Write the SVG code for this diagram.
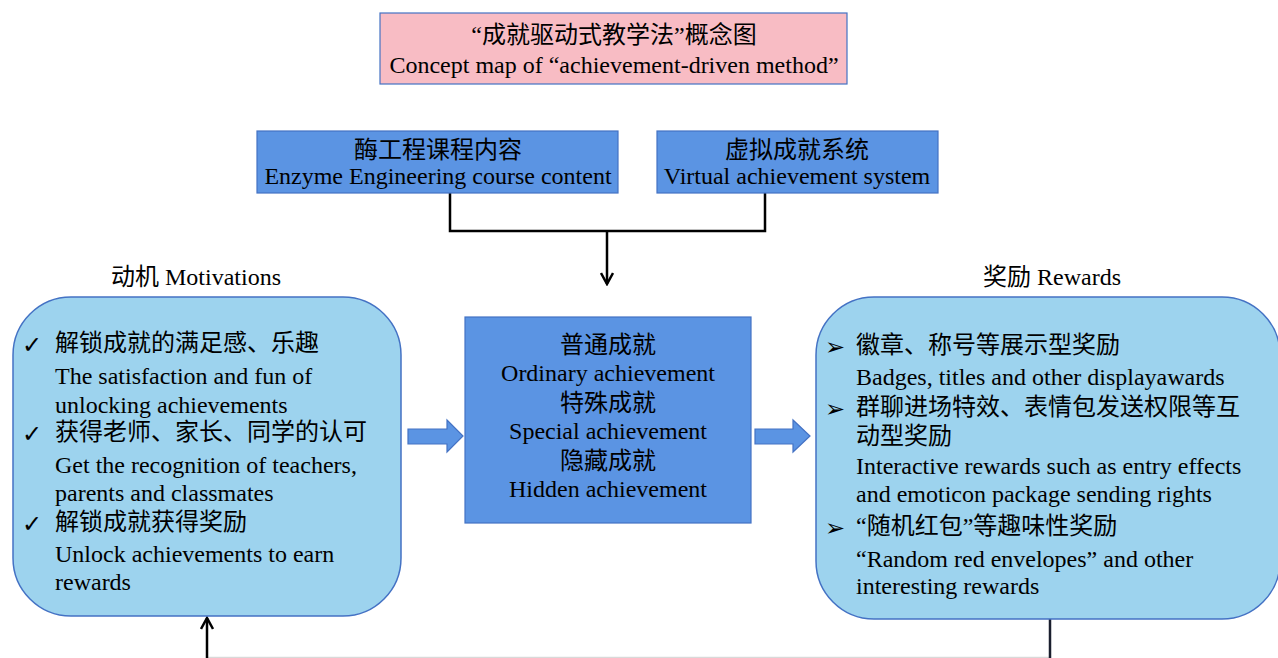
<svg xmlns="http://www.w3.org/2000/svg" width="1278" height="658" viewBox="0 0 1278 658">
<style>
.t{font-family:"Liberation Serif","Noto Sans CJK SC",serif;font-size:24px;fill:#000}
.c{text-anchor:middle}
.sym{font-family:"DejaVu Sans",sans-serif;font-size:24px;fill:#000}
.dark{fill:#5B94E3;stroke:#4472C4;stroke-width:1.2}
.light{fill:#9DD3EE;stroke:#4472C4;stroke-width:1.5}
.conn{fill:none;stroke:#000;stroke-width:2.5}
</style>
<defs>
<marker id="ah" viewBox="0 0 14 14" refX="12" refY="7" markerWidth="14" markerHeight="14" markerUnits="userSpaceOnUse" orient="auto">
<polyline points="1,1 12,7 1,13" fill="none" stroke="#000" stroke-width="2.5"/>
</marker>
</defs>
<g id="connectors">
<path class="conn" d="M450,193 V231 H765 V193"/>
<path class="conn" d="M607,231 V284" marker-end="url(#ah)"/>
<line x1="207" y1="657.5" x2="1050" y2="657.5" stroke="#d9d9d9" stroke-width="1.5"/>
<path d="M1050,619 V658" stroke="#1a1f2e" stroke-width="2.5" fill="none"/>
<path class="conn" d="M207,658 V618" marker-end="url(#ah)"/>
<polygon class="dark" points="408,429 447,429 447,420 463,436 447,452 447,444 408,444"/>
<polygon class="dark" points="755,429 793,429 793,420 810,436 793,452 793,444 755,444"/>
</g>
<g id="title">
<rect x="380" y="13" width="467" height="71" fill="#F8BCC4" stroke="#4472C4" stroke-width="1.2"/>
<text class="t c" x="614" y="43">“成就驱动式教学法”概念图</text>
<text class="t c" x="614" y="73">Concept map of “achievement-driven method”</text>
</g>
<g id="enzyme">
<rect class="dark" x="257" y="131" width="361" height="62"/>
<text class="t c" x="438" y="158">酶工程课程内容</text>
<text class="t c" x="438" y="184">Enzyme Engineering course content</text>
</g>
<g id="virtual">
<rect class="dark" x="657" y="131" width="281" height="62"/>
<text class="t c" x="797" y="158">虚拟成就系统</text>
<text class="t c" x="797" y="184">Virtual achievement system</text>
</g>
<g id="label-motivations">
<text class="t c" x="196" y="285">动机 Motivations</text>
</g>
<g id="label-rewards">
<text class="t c" x="1052" y="285">奖励 Rewards</text>
</g>
<g id="motivations">
<rect class="light" x="13" y="297" width="388" height="319" rx="58" ry="58"/>
<text class="sym" x="22" y="353">✓</text>
<text class="t" x="55" y="351">解锁成就的满足感、乐趣</text>
<text class="t" x="55" y="384">The satisfaction and fun of</text>
<text class="t" x="55" y="413">unlocking achievements</text>
<text class="sym" x="22" y="442">✓</text>
<text class="t" x="55" y="440">获得老师、家长、同学的认可</text>
<text class="t" x="55" y="473">Get the recognition of teachers,</text>
<text class="t" x="55" y="501">parents and classmates</text>
<text class="sym" x="22" y="532">✓</text>
<text class="t" x="55" y="530">解锁成就获得奖励</text>
<text class="t" x="55" y="562">Unlock achievements to earn</text>
<text class="t" x="55" y="590">rewards</text>
</g>
<g id="achievements">
<rect class="dark" x="465" y="317" width="286" height="206"/>
<text class="t c" x="608" y="353">普通成就</text>
<text class="t c" x="608" y="381">Ordinary achievement</text>
<text class="t c" x="608" y="411">特殊成就</text>
<text class="t c" x="608" y="439">Special achievement</text>
<text class="t c" x="608" y="469">隐藏成就</text>
<text class="t c" x="608" y="497">Hidden achievement</text>
</g>
<g id="rewards">
<rect class="light" x="816" y="297" width="464" height="322" rx="58" ry="58"/>
<text class="sym" x="825" y="355">➢</text>
<text class="t" x="856" y="353">徽章、称号等展示型奖励</text>
<text class="t" x="856" y="385">Badges, titles and other displayawards</text>
<text class="sym" x="825" y="417">➢</text>
<text class="t" x="856" y="415">群聊进场特效、表情包发送权限等互</text>
<text class="t" x="856" y="444">动型奖励</text>
<text class="t" x="856" y="474">Interactive rewards such as entry effects</text>
<text class="t" x="856" y="502">and emoticon package sending rights</text>
<text class="sym" x="825" y="536">➢</text>
<text class="t" x="856" y="534">“随机红包”等趣味性奖励</text>
<text class="t" x="856" y="567">“Random red envelopes” and other</text>
<text class="t" x="856" y="594">interesting rewards</text>
</g>
</svg>
